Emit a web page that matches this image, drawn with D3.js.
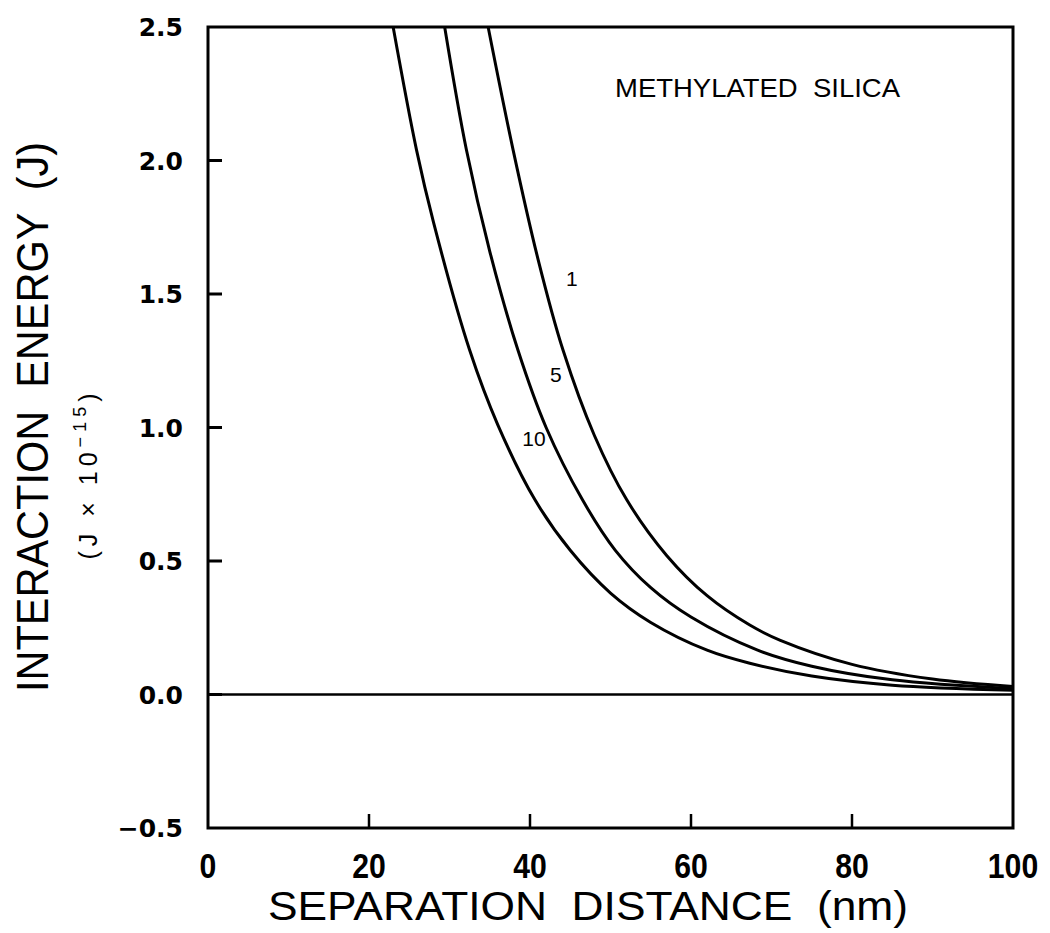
<!DOCTYPE html>
<html>
<head>
<meta charset="utf-8">
<script src="https://cdn.jsdelivr.net/npm/d3@7"></script>
<style>
  body { margin: 0; background: #fff; }
  svg { display: block; }
</style>
</head>
<body>
<div id="chart"></div>
<script>
// values (x in nm, y in J x 1e-15)
var curve10_x = [23.0, 25.9, 28, 32.5, 36, 40.6, 45, 50, 55, 62, 67.3, 75, 85, 100];
var curve10_y = [2.5, 2.04, 1.77, 1.29, 1.01, 0.73, 0.54, 0.38, 0.27, 0.166, 0.117, 0.069, 0.035, 0.016];

var curve5_x = [29.4, 32.1, 35, 38.5, 42, 46.5, 50.6, 55, 60, 68.2, 75, 85, 100];
var curve5_y = [2.5, 2.04, 1.66, 1.29, 1.0, 0.73, 0.54, 0.40, 0.29, 0.167, 0.106, 0.055, 0.022];

var curve1_x = [34.8, 37.9, 41, 44.1, 48, 52, 57, 62, 67.3, 71.1, 80, 90, 100];
var curve1_y = [2.5, 2.04, 1.63, 1.29, 0.97, 0.73, 0.52, 0.37, 0.26, 0.203, 0.113, 0.058, 0.03];

var curve_names = ["10", "5", "1"];
// where the little curve labels sit (data coords)
var label_x = [40.5, 43.2, 45.2];
var label_y = [0.93, 1.17, 1.53];

var x_ticks = [0, 20, 40, 60, 80, 100];
var y_ticks = [-0.5, 0.0, 0.5, 1.0, 1.5, 2.0, 2.5];

var margin = {top: 27, right: 37, bottom: 105, left: 208},
    width = 1050 - margin.left - margin.right,
    height = 933 - margin.top - margin.bottom;

var svg = d3.select("#chart")
    .append("svg")
    .attr("width", 1050)
    .attr("height", 933);

var g = svg.append("g")
    .attr("transform", `translate(${margin.left},${margin.top})`);

var xScale = d3.scaleLinear().domain([0, 100]).range([0, width]);
var yScale = d3.scaleLinear().domain([-0.5, 2.5]).range([height, 0]);

// zero line
g.append("line")
    .attr("x1", xScale(0)).attr("x2", xScale(100))
    .attr("y1", yScale(0)).attr("y2", yScale(0))
    .attr("stroke", "#000")
    .attr("stroke-width", 2.5);

// curves
var series = [
    {name: "10", xs: curve10_x, ys: curve10_y},
    {name: "5", xs: curve5_x, ys: curve5_y},
    {name: "1", xs: curve1_x, ys: curve1_y}
];

var line = d3.line()
    .x(d => xScale(d[0]))
    .y(d => yScale(d[1]))
    .curve(d3.curveCatmullRom.alpha(0.5));

g.selectAll(".curve")
    .data(series)
    .enter()
    .append("path")
    .attr("class", "curve")
    .attr("fill", "none")
    .attr("stroke", "#000")
    .attr("stroke-width", 3)
    .attr("d", s => line(s.xs.map((x, i) => [x, s.ys[i]])));

// curve labels
g.selectAll(".clabel")
    .data(curve_names)
    .enter()
    .append("text")
    .attr("class", "clabel")
    .attr("x", (d, i) => xScale(label_x[i]))
    .attr("y", (d, i) => yScale(label_y[i]))
    .attr("text-anchor", "middle")
    .style("font-family", "Liberation Sans, Arial, sans-serif")
    .style("font-size", "21px")
    .text(d => d);

// frame
g.append("rect")
    .attr("x", 0).attr("y", 0)
    .attr("width", width).attr("height", height)
    .attr("fill", "none")
    .attr("stroke", "#000")
    .attr("stroke-width", 3);

// inward ticks, left and bottom only
g.selectAll(".ytick")
    .data(y_ticks.slice(1, -1))
    .enter()
    .append("line")
    .attr("x1", 0).attr("x2", 14)
    .attr("y1", d => yScale(d)).attr("y2", d => yScale(d))
    .attr("stroke", "#000")
    .attr("stroke-width", 3);

g.selectAll(".xtick")
    .data(x_ticks.slice(1, -1))
    .enter()
    .append("line")
    .attr("x1", d => xScale(d)).attr("x2", d => xScale(d))
    .attr("y1", height).attr("y2", height - 14)
    .attr("stroke", "#000")
    .attr("stroke-width", 2.5);

// tick labels
g.selectAll(".ylab")
    .data(y_ticks)
    .enter()
    .append("text")
    .attr("x", -25)
    .attr("y", d => yScale(d))
    .attr("dy", "0.36em")
    .attr("text-anchor", "end")
    .style("font-family", "DejaVu Sans, sans-serif")
    .style("font-weight", "bold")
    .style("font-size", "25px")
    .text(d => (d < 0 ? "\u2212" : "") + Math.abs(d).toFixed(1));

g.selectAll(".xlab")
    .data(x_ticks)
    .enter()
    .append("text")
    .attr("transform", d => `translate(${xScale(d)},${height + 50}) scale(0.84,1)`)
    .attr("text-anchor", "middle")
    .style("font-family", "Liberation Sans, Arial, sans-serif")
    .style("font-weight", "bold")
    .style("font-size", "36px")
    .text(d => d);

// axis titles (white-space pre so the wide word gaps survive)
svg.append("text")
    .attr("x", 588)
    .attr("y", 920)
    .attr("text-anchor", "middle")
    .attr("textLength", 640)
    .attr("lengthAdjust", "spacingAndGlyphs")
    .style("white-space", "pre")
    .style("font-family", "Liberation Sans, Arial, sans-serif")
    .style("font-size", "41px")
    .text("SEPARATION  DISTANCE  (nm)");

svg.append("text")
    .attr("transform", "translate(48,417) rotate(-90)")
    .attr("text-anchor", "middle")
    .attr("textLength", 550)
    .attr("lengthAdjust", "spacingAndGlyphs")
    .style("white-space", "pre")
    .style("font-family", "Liberation Sans, Arial, sans-serif")
    .style("font-size", "44px")
    .text("INTERACTION  ENERGY  (J)");

var sub = svg.append("text")
    .attr("transform", "translate(97,474) rotate(-90)")
    .attr("text-anchor", "middle")
    .style("font-family", "Liberation Sans, Arial, sans-serif")
    .style("font-size", "25px")
    .style("letter-spacing", "5px");
sub.append("tspan").text("(J \u00d7 10");
sub.append("tspan").attr("dy", -11).style("font-size", "18px").text("\u221215");
sub.append("tspan").attr("dy", 11).text(")");

// inset title
svg.append("text")
    .attr("x", 615)
    .attr("y", 97)
    .attr("textLength", 285)
    .attr("lengthAdjust", "spacingAndGlyphs")
    .style("white-space", "pre")
    .style("font-family", "Liberation Sans, Arial, sans-serif")
    .style("font-size", "26px")
    .text("METHYLATED  SILICA");
</script>
</body>
</html>
